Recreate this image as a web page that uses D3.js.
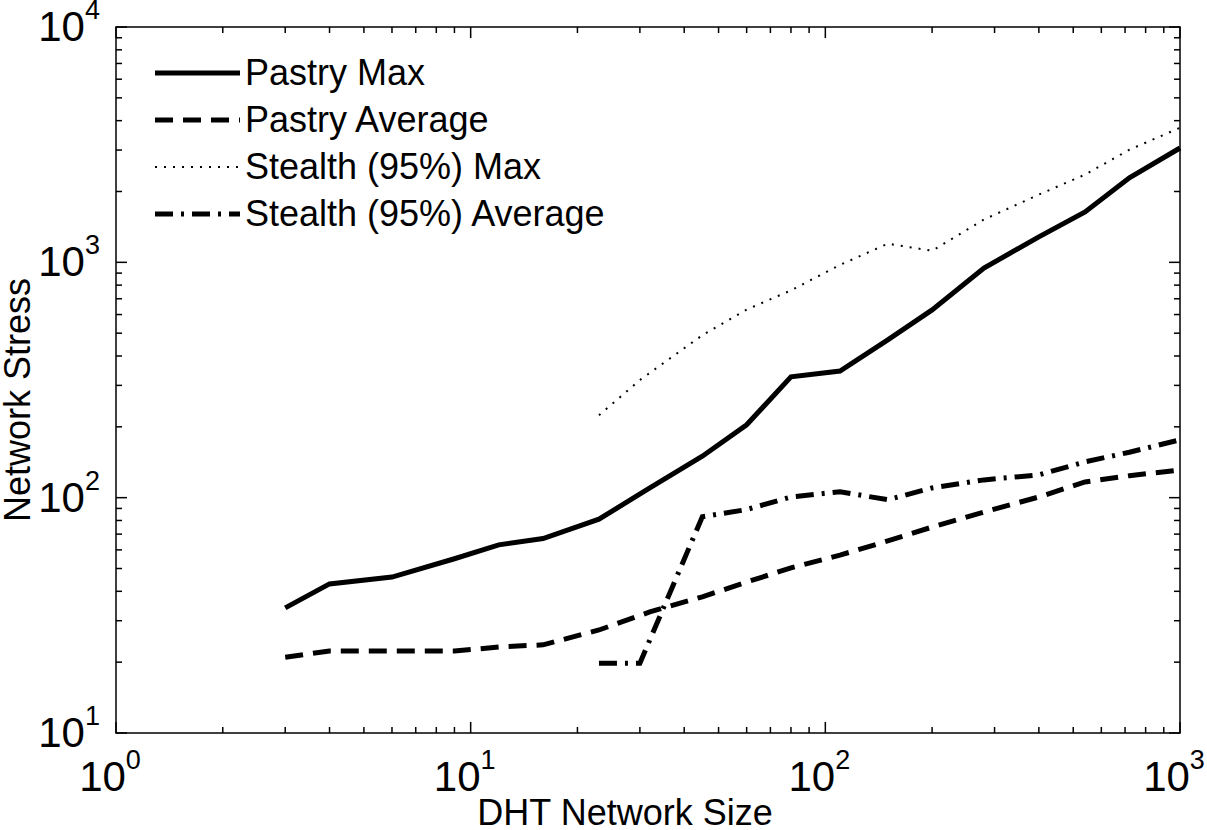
<!DOCTYPE html>
<html><head><meta charset="utf-8">
<script src="https://cdn.jsdelivr.net/npm/d3@7"></script>
<style>body{margin:0;background:#fff}text{font-family:"Liberation Sans Narrow","Arial Narrow","Liberation Sans",Arial,sans-serif}</style>
</head><body><svg id="c" width="1207" height="830"></svg>
<script>
// values
const pastryX = [3, 4, 6, 9, 12, 16, 23, 32, 45, 60, 80, 110, 150, 200, 280, 400, 540, 720, 1000];
const pastryMax = [34, 43, 46, 55, 63, 67, 81, 110, 150, 204, 326, 345, 468, 628, 946, 1282, 1637, 2286, 3060];
const pastryAvg = [21, 22.3, 22.3, 22.3, 23.2, 23.7, 27.4, 32.7, 37.9, 43.8, 50.3, 57, 65.5, 75, 86.9, 100.7, 116.6, 124, 131];
const stealthX = [23, 30, 45, 60, 80, 110, 150, 200, 280, 400, 540, 720, 1000];
const stealthMax = [224, 316, 490, 630, 760, 975, 1200, 1120, 1520, 1940, 2360, 3010, 3730];
const stealthAvg = [19.8, 19.8, 83, 89, 100.7, 106, 98, 110, 119, 125, 142, 156, 176];
const legendLabels = ['Pastry Max', 'Pastry Average', 'Stealth (95%) Max', 'Stealth (95%) Average'];
const xTicks = [1, 10, 100, 1000];
const yTicks = [10, 100, 1000, 10000];

const svg = d3.select('#c');
const L = 116, R = 1180, T = 27, B = 733;
const x = d3.scaleLog().domain([1, 1000]).range([L, R]);
const y = d3.scaleLog().domain([10, 10000]).range([B, T]);

const styles = [
  {w: 5, dash: null},
  {w: 5, dash: '18,10'},
  {w: 2, dash: '2,7'},
  {w: 5, dash: '18,8,3,8'}
];
const series = [
  [pastryX, pastryMax], [pastryX, pastryAvg], [stealthX, stealthMax], [stealthX, stealthAvg]
];

// minor + major ticks (inward, on all four sides)
const minorX = [], minorY = [];
for (let d = 1; d < 1000; d *= 10) for (let k = 2; k < 10; k++) minorX.push(d * k);
for (let d = 10; d < 10000; d *= 10) for (let k = 2; k < 10; k++) minorY.push(d * k);
const g = svg.append('g').attr('stroke', '#000').attr('stroke-width', 1.5);
minorX.forEach(v => { g.append('line').attr('x1', x(v)).attr('x2', x(v)).attr('y1', B).attr('y2', B - 6);
  g.append('line').attr('x1', x(v)).attr('x2', x(v)).attr('y1', T).attr('y2', T + 6); });
xTicks.forEach(v => { g.append('line').attr('x1', x(v)).attr('x2', x(v)).attr('y1', B).attr('y2', B - 11);
  g.append('line').attr('x1', x(v)).attr('x2', x(v)).attr('y1', T).attr('y2', T + 11); });
minorY.forEach(v => { g.append('line').attr('y1', y(v)).attr('y2', y(v)).attr('x1', L).attr('x2', L + 6);
  g.append('line').attr('y1', y(v)).attr('y2', y(v)).attr('x1', R).attr('x2', R - 6); });
yTicks.forEach(v => { g.append('line').attr('y1', y(v)).attr('y2', y(v)).attr('x1', L).attr('x2', L + 11);
  g.append('line').attr('y1', y(v)).attr('y2', y(v)).attr('x1', R).attr('x2', R - 11); });
svg.append('rect').attr('x', L).attr('y', T).attr('width', R - L).attr('height', B - T)
  .attr('fill', 'none').attr('stroke', '#000').attr('stroke-width', 1.5);

const line = d3.line().x(d => x(d[0])).y(d => y(d[1]));
series.forEach((s, i) => {
  svg.append('path').datum(s[0].map((v, j) => [v, s[1][j]])).attr('d', line)
    .attr('fill', 'none').attr('stroke', '#000').attr('stroke-width', styles[i].w)
    .attr('stroke-dasharray', styles[i].dash).attr('stroke-linejoin', 'miter');
});

// tick labels 10^n
xTicks.forEach(v => {
  const t = svg.append('text').attr('x', x(v) - 6).attr('y', B + 58).attr('text-anchor', 'middle').attr('font-size', 42);
  t.append('tspan').text('10');
  t.append('tspan').attr('dy', -22).attr('font-size', 27).text(Math.round(Math.log10(v)));
});
yTicks.forEach(v => {
  const t = svg.append('text').attr('x', L - 16).attr('y', y(v) + 14).attr('text-anchor', 'end').attr('font-size', 42);
  t.append('tspan').text('10');
  t.append('tspan').attr('dy', -22).attr('font-size', 27).text(Math.round(Math.log10(v)));
});

svg.append('text').attr('x', 625).attr('y', 825).attr('text-anchor', 'middle').attr('font-size', 36).text('DHT Network Size');
svg.append('text').attr('transform', `translate(30,${(T + B) / 2 + 20}) rotate(-90)`).attr('text-anchor', 'middle').attr('font-size', 36).text('Network Stress');

legendLabels.forEach((lab, i) => {
  const ly = 73 + i * 47;
  svg.append('line').attr('x1', 155).attr('x2', 240).attr('y1', ly).attr('y2', ly)
    .attr('stroke', '#000').attr('stroke-width', styles[i].w).attr('stroke-dasharray', styles[i].dash);
  svg.append('text').attr('x', 245).attr('y', ly + 12).attr('font-size', 36).text(lab);
});
</script></body></html>
